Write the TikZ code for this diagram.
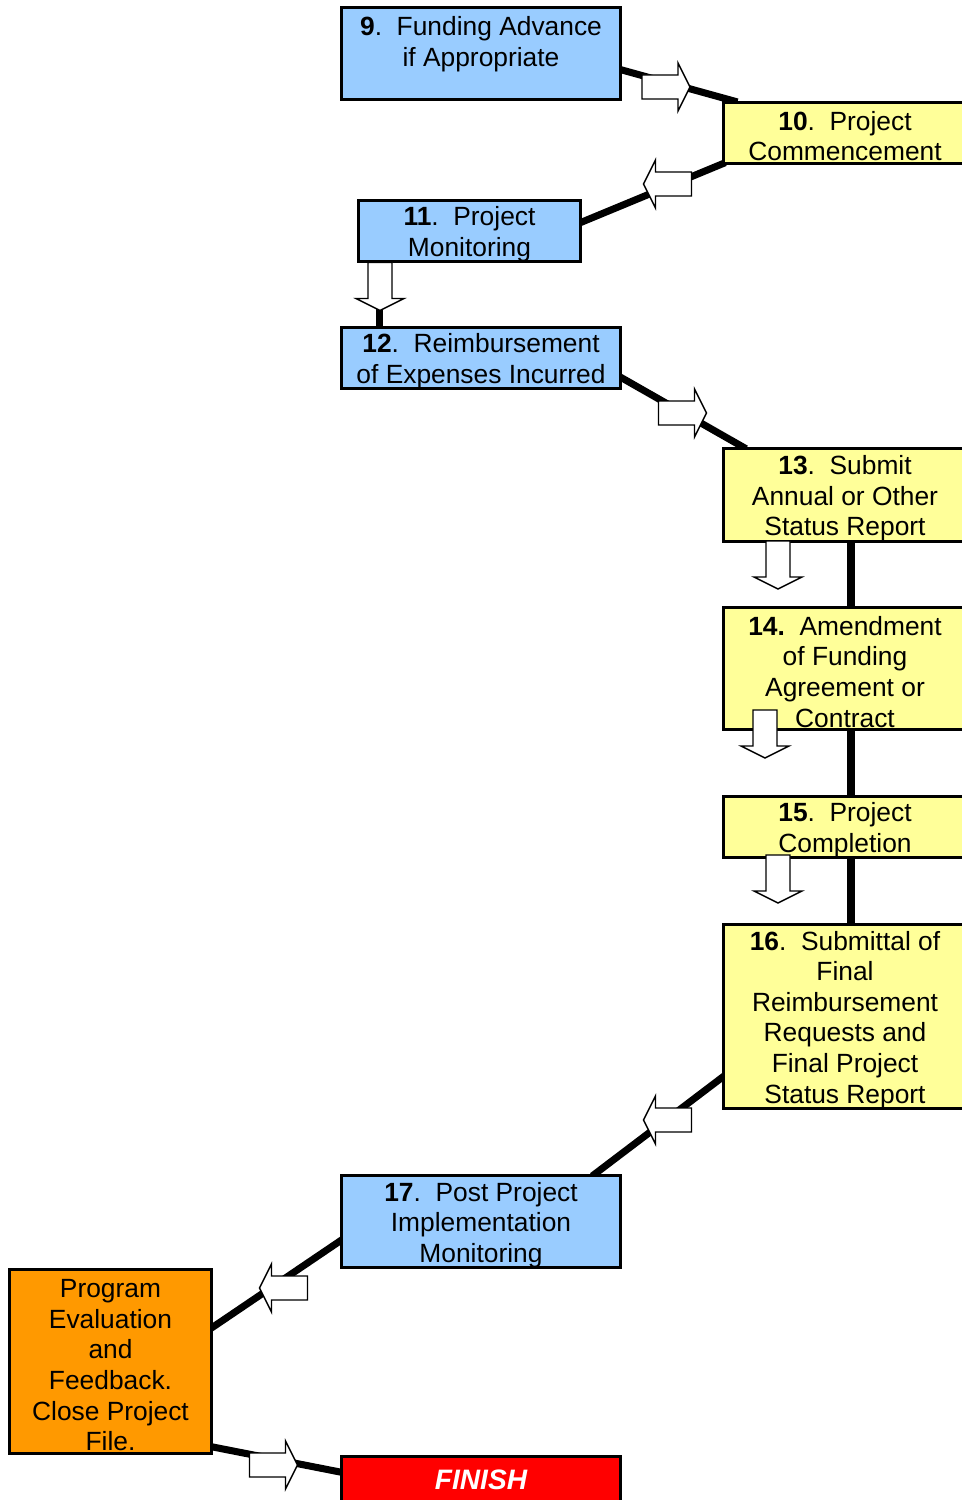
\documentclass[tikz,border=0pt]{standalone}
\usepackage{fontspec}
\setmainfont{Liberation Sans}
\usetikzlibrary{calc,backgrounds}
\definecolor{stepblue}{HTML}{99CCFF}
\definecolor{stepyellow}{HTML}{FFFF99}
\definecolor{steporange}{HTML}{FF9900}
\definecolor{stepred}{HTML}{FF0000}
\newcommand{\stepstrut}{\rule{0pt}{14.6pt}}

\tikzset{
  box/.style={draw, line width=1.7pt, align=center, inner sep=0pt, font=\fontsize{15}{17.4}\selectfont},
  bluebox/.style={box, fill=stepblue},
  yellowbox/.style={box, fill=stepyellow},
  link/.style={line width=4pt, shorten <=-2pt, shorten >=-2pt},
  blockarrow/.pic={
    \draw[fill=white, line width=0.8pt, line join=miter] (-24,-12) -- (12,-12) -- (12,-24) -- (24,0) -- (12,24) -- (12,12) -- (-24,12) -- cycle;
  }
}

\begin{document}
\begin{tikzpicture}[x=0.02cm, y=-0.02cm]
  \useasboundingbox (0,0) rectangle (961,1500);

	\node[bluebox, minimum width=5.58cm, minimum height=1.84cm] (n9) at (481,53.5) {\stepstrut\textbf{9}.~~Funding Advance\\if Appropriate\\\mbox{}};
	\node[yellowbox, minimum width=4.86cm, minimum height=1.22cm] (n10) at (845,133) {\stepstrut\textbf{10}.~~Project\\Commencement};
	\node[bluebox, minimum width=4.44cm, minimum height=1.22cm] (n11) at (469.5,231) {\stepstrut\textbf{11}.~~Project\\Monitoring};
	\node[bluebox, minimum width=5.58cm, minimum height=1.22cm] (n12) at (481,358) {\stepstrut\textbf{12}.~~Reimbursement\\of Expenses Incurred};
	\node[yellowbox, minimum width=4.86cm, minimum height=1.86cm] (n13) at (845,495) {\stepstrut\textbf{13}.~~Submit\\Annual or Other\\Status Report};
	\node[yellowbox, minimum width=4.86cm, minimum height=2.44cm] (n14) at (845,668.5) {\stepstrut\textbf{14.}~~Amendment\\of Funding\\Agreement or\\Contract};
	\node[yellowbox, minimum width=4.86cm, minimum height=1.22cm] (n15) at (845,827) {\stepstrut\textbf{15}.~~Project\\Completion};
	\node[yellowbox, minimum width=4.86cm, minimum height=3.68cm] (n16) at (845,1016.5) {\stepstrut\textbf{16}.~~Submittal of\\Final\\Reimbursement\\Requests and\\Final Project\\Status Report};
	\node[bluebox, minimum width=5.58cm, minimum height=1.84cm] (n17) at (481,1221.5) {\stepstrut\textbf{17}.~~Post Project\\Implementation\\Monitoring};
	\node[box, fill=steporange, minimum width=4.04cm, minimum height=3.68cm] (eval) at (110.5,1361.5) {\stepstrut Program\\Evaluation\\and\\Feedback.\\Close Project\\File.};
	\node[box, fill=stepred, text=white, minimum width=5.58cm, minimum height=0.94cm, font=\fontsize{16}{18}\selectfont\bfseries\itshape] (finish) at (481,1480) {FINISH};

	\coordinate (c11) at ($(n11.south west)+(22.5,0)$);
	\coordinate (spine) at ($(n13.south)+(6,0)$);

  \begin{pgfonlayer}{background}
	\draw[link] ($(n9.east)+(0,16.5)$) -- ($(n10.north west)+(12,0)$);
	\draw[link] ($(n10.south west)+(0,-1)$) -- ($(n11.east)+(0,-9)$);
	\draw[link] (c11) -- (c11 |- n12.north);
	\draw[link] ($(n12.east)+(0,20)$) -- ($(n13.north west)+(21,0)$);
	\draw[link] (spine) -- (spine |- n14.north);
	\draw[link] (spine |- n14.south) -- (spine |- n15.north);
	\draw[link] (spine |- n15.south) -- (spine |- n16.north);
	\draw[link] ($(n16.west)+(0,61)$) -- ($(n17.north east)+(-27,0)$);
	\draw[link] ($(n17.west)+(0,19.5)$) -- ($(eval.east)+(0,-34.5)$);
	\draw[link] ($(eval.east)+(0,85.5)$) -- ($(finish.west)+(0,-8)$);
  \end{pgfonlayer}

	\pic at (666,87) {blockarrow};
	\pic[rotate=180] at (667.5,184) {blockarrow};
	\pic[rotate=-90] at (380,286.5) {blockarrow};
	\pic at (682.5,413) {blockarrow};
	\pic[rotate=-90] at (778,565) {blockarrow};
	\pic[rotate=-90] at (765,734) {blockarrow};
	\pic[rotate=-90] at (778,879) {blockarrow};
	\pic[rotate=180] at (667.5,1120) {blockarrow};
	\pic[rotate=180] at (283.5,1288) {blockarrow};
	\pic at (273.5,1465) {blockarrow};
\end{tikzpicture}
\end{document}
